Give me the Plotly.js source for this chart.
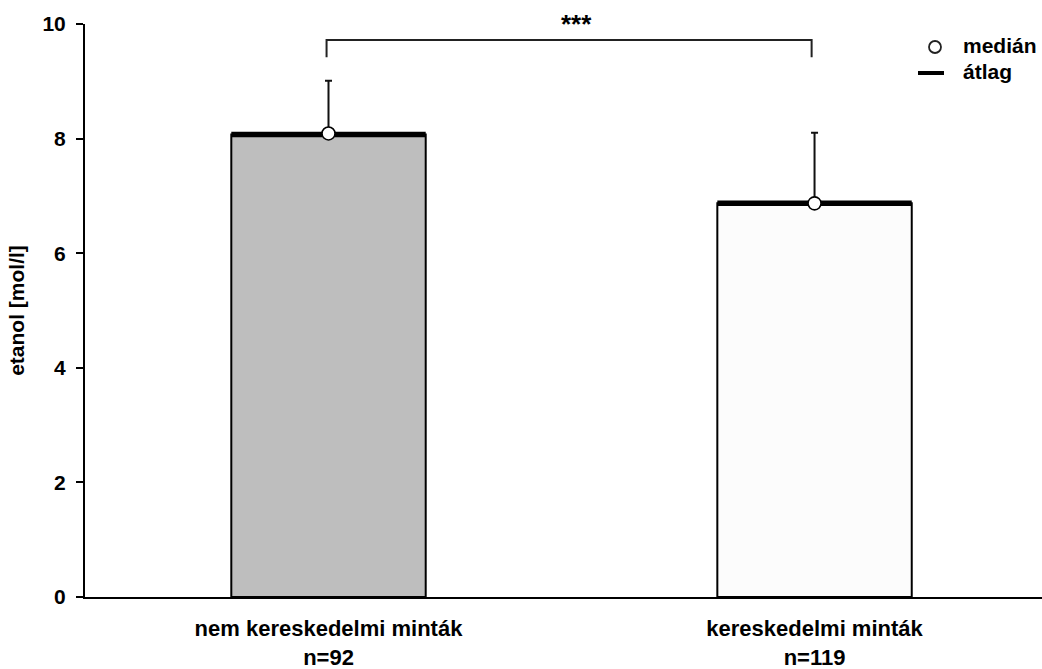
<!DOCTYPE html>
<html>
<head>
<meta charset="utf-8">
<script src="https://cdn.plot.ly/plotly-3.0.1.min.js"></script>
<style>html,body{margin:0;padding:0;background:#fff;}#chart{width:1042px;height:669px;}</style>
</head>
<body>
<div id="chart"></div>
<script>
// ---- data ----
const categories = ["nem kereskedelmi minták", "kereskedelmi minták"];
const sampleSizes = ["n=92", "n=119"];
const means = [8.07, 6.87];
const medians = [8.09, 6.87];
const upperLimits = [9.01, 8.10];
const significance = "***";
const yTicks = [0, 2, 4, 6, 8, 10];
const legendLabels = ["medián", "átlag"];

// ---- derived ----
const xs = categories.map((c, i) => i);
const barWidth = 0.4;
const fillColors = ["#bebebe", "#fcfcfc"];
const font = "Liberation Sans, Arial, sans-serif";

const traces = [];
traces.push({
  type: "bar", x: xs, y: means, width: barWidth,
  marker: {color: fillColors, line: {color: "#000", width: 2}},
  error_y: {type: "data", symmetric: false,
    array: upperLimits.map((u, i) => u - means[i]),
    arrayminus: means.map(() => 0),
    color: "#111", thickness: 2, width: 3.5},
  showlegend: false, hoverinfo: "none"
});
// thick mean lines
means.forEach((m, i) => {
  traces.push({
    type: "scatter", mode: "lines",
    x: [i - barWidth / 2, i + barWidth / 2], y: [m, m],
    line: {color: "#000", width: 5.5}, showlegend: false, hoverinfo: "none"
  });
});
// medians
traces.push({
  type: "scatter", mode: "markers", x: xs, y: medians,
  marker: {symbol: "circle", size: 13, color: "#fff", line: {color: "#000", width: 1.6}},
  showlegend: false, hoverinfo: "none"
});

// significance bracket
const yb0 = 9.42, yb1 = 9.72;
const shapes = [
  {type: "path", xref: "x", yref: "y",
   path: `M ${xs[0] - 0.004},${yb0} L ${xs[0] - 0.004},${yb1} L ${xs[1] - 0.006},${yb1} L ${xs[1] - 0.006},${yb0}`,
   line: {color: "#222", width: 2}},
  // y-axis line extension below zero
  {type: "line", xref: "paper", yref: "y", x0: 0, x1: 0, y0: 0, y1: -0.09,
   line: {color: "#000", width: 2}},
  // legend symbols
  {type: "circle", xref: "paper", yref: "paper", xsizemode: "pixel", ysizemode: "pixel",
   xanchor: (935 - 85) / 957, yanchor: (597 - 47) / 573,
   x0: -6, x1: 6, y0: -6, y1: 6, fillcolor: "#fff", line: {color: "#222", width: 1.8}},
  {type: "line", xref: "paper", yref: "paper",
   x0: (918 - 85) / 957, x1: (944 - 85) / 957, y0: (597 - 73) / 573, y1: (597 - 73) / 573,
   line: {color: "#000", width: 4}}
];

const annotations = [
  {xref: "paper", yref: "paper", x: (576 - 85) / 957, y: (597 - 24) / 573, xanchor: "center", yanchor: "middle",
   text: "<b>" + significance + "</b>", showarrow: false,
   font: {family: font, size: 26, color: "#000"}},
  {xref: "paper", yref: "paper", x: (961 - 85) / 957, y: (597 - 46) / 573, xanchor: "left", yanchor: "middle",
   text: "<b>" + legendLabels[0] + "</b>", showarrow: false, font: {family: font, size: 21, color: "#000"}},
  {xref: "paper", yref: "paper", x: (961 - 85) / 957, y: (597 - 71) / 573, xanchor: "left", yanchor: "middle",
   text: "<b>" + legendLabels[1] + "</b>", showarrow: false, font: {family: font, size: 21, color: "#000"}}
];

const layout = {
  width: 1042, height: 669,
  margin: {l: 85, r: 0, t: 24, b: 72, pad: 0},
  paper_bgcolor: "#fff", plot_bgcolor: "#fff",
  showlegend: false,
  xaxis: {
    range: [-0.501, 1.468], tickvals: xs,
    ticktext: categories.map((c, i) => "<b>" + c + "</b><br><b>" + sampleSizes[i] + "</b>"),
    showline: true, linecolor: "#000", linewidth: 2, ticks: "", showgrid: false, zeroline: false,
    ticklabelstandoff: 11,
    tickfont: {family: font, size: 22, color: "#000"}
  },
  yaxis: {
    range: [0, 10], tickvals: yTicks, ticks: "outside", ticklen: 7, tickwidth: 2, tickcolor: "#000",
    showline: true, linecolor: "#000", linewidth: 2, showgrid: false, zeroline: false,
    ticklabelstandoff: 6,
    tickfont: {family: font, size: 21, color: "#000", weight: "bold"},
    title: {text: "<b>etanol [mol/l]</b>", font: {family: font, size: 21, color: "#000"}, standoff: 12}
  },
  shapes: shapes, annotations: annotations
};

Plotly.newPlot("chart", traces, layout, {staticPlot: true, displayModeBar: false});
</script>
</body>
</html>
